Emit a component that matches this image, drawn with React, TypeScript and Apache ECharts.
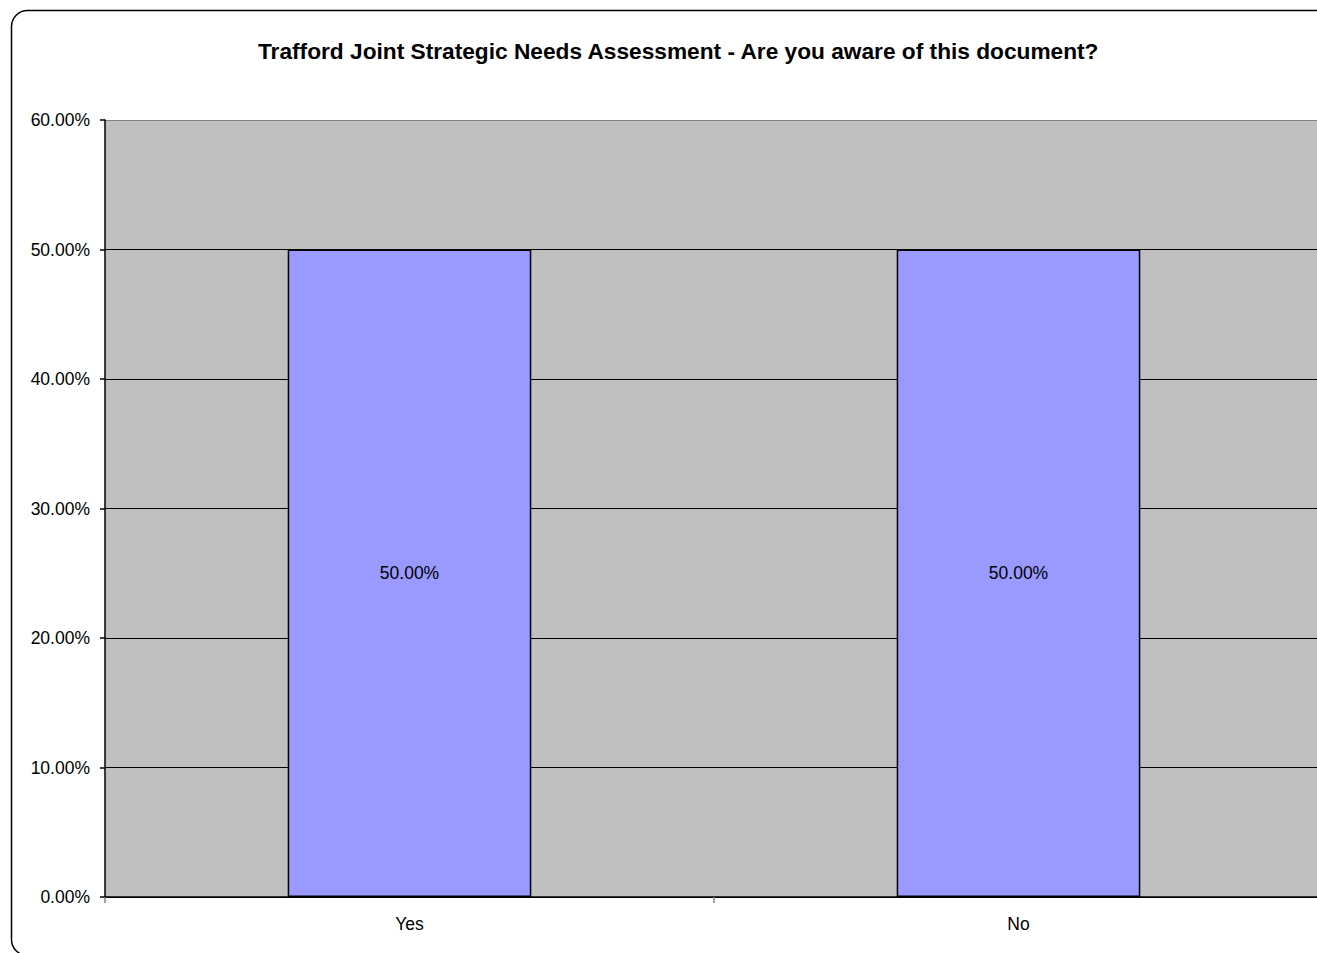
import React, { useEffect, useRef } from "react";
import * as echarts from "echarts";

const categories = ["Yes", "No"];
const values = [50, 50];
const yTicks = { min: 0, max: 60, interval: 10 };
const titleText = "Trafford Joint Strategic Needs Assessment - Are you aware of this document?";

export default function App() {
  const ref = useRef<HTMLDivElement>(null);
  useEffect(() => {
    if (!ref.current) return;
    const chart = echarts.init(ref.current, null, { renderer: "svg" });
    const font = "Liberation Sans, Arial, sans-serif";
    chart.setOption({
      animation: false,
      backgroundColor: "#ffffff",
      title: {
        text: titleText,
        left: 253,
        top: 34,
        textStyle: { fontFamily: font, fontSize: 22.7, fontWeight: "bold", color: "#000" },
      },
      graphic: [
        {
          type: "rect",
          shape: { x: 11.5, y: 10.5, width: 1330, height: 945, r: 16 },
          style: { fill: "none", stroke: "#000", lineWidth: 1.5 },
          silent: true,
          z: 100,
        },
      ],
      grid: {
        left: 105,
        top: 120,
        right: 0,
        bottom: 56,
        show: true,
        backgroundColor: "#C0C0C0",
        borderWidth: 0,
      },
      xAxis: {
        type: "category",
        data: categories,
        axisLine: { lineStyle: { color: "#000", width: 1.5 } },
        axisTick: { show: true, length: 6, lineStyle: { color: "#808080", width: 1.5 } },
        axisLabel: { fontFamily: font, fontSize: 17.5, color: "#000", margin: 18 },
      },
      yAxis: {
        type: "value",
        min: yTicks.min,
        max: yTicks.max,
        interval: yTicks.interval,
        axisLine: { show: true, lineStyle: { color: "#000", width: 1.5 } },
        axisTick: { show: true, length: 5, lineStyle: { color: "#000", width: 1.5 } },
        axisLabel: {
          fontFamily: font,
          fontSize: 17.5,
          color: "#000",
          margin: 15,
          formatter: (v: number) => v.toFixed(2) + "%",
        },
        splitLine: {
          show: true,
          lineStyle: {
            color: ["#000", "#000", "#000", "#000", "#000", "#000", "#808080"],
            width: 1,
          },
        },
      },
      series: [
        {
          type: "bar",
          data: values,
          barWidth: "40%",
          itemStyle: { color: "#9999FF", borderColor: "#000", borderWidth: 1.5 },
          label: {
            show: true,
            position: "inside",
            fontFamily: font,
            fontSize: 17.5,
            color: "#000",
            formatter: (p: any) => Number(p.value).toFixed(2) + "%",
          },
        },
      ],
    });
    return () => chart.dispose();
  }, []);
  return (
    <div style={{ position: "fixed", left: 0, top: 0, width: 1317, height: 953, overflow: "hidden" }}>
      <div ref={ref} style={{ width: 1323, height: 953 }} />
    </div>
  );
}
